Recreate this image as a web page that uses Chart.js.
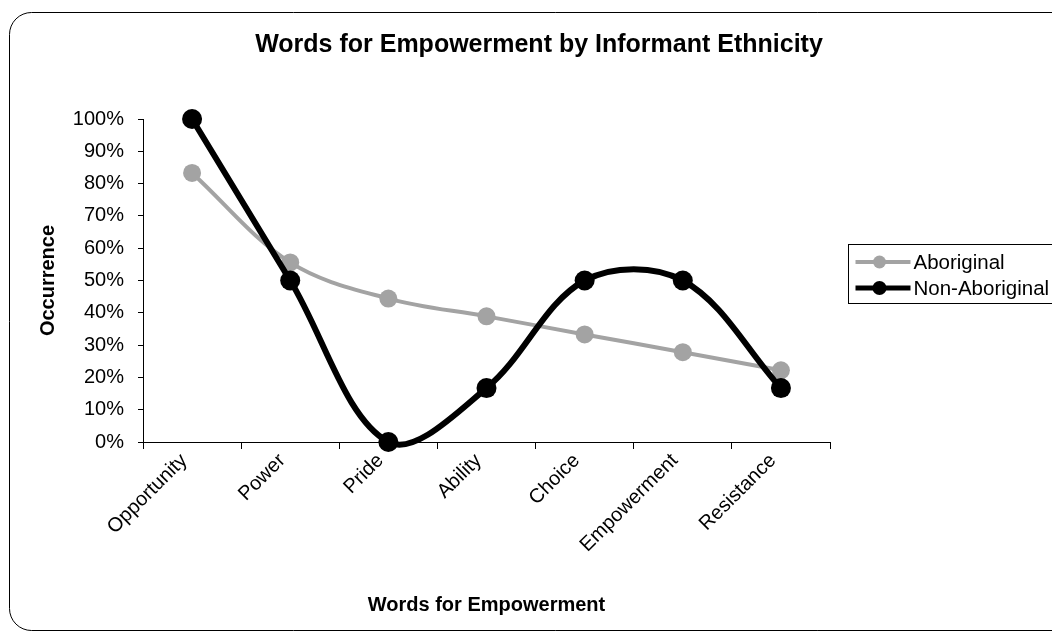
<!DOCTYPE html>
<html>
<head>
<meta charset="utf-8">
<title>Words for Empowerment by Informant Ethnicity</title>
<script src="https://cdn.jsdelivr.net/npm/chart.js@4/dist/chart.umd.min.js"></script>
<style>
  html, body { margin: 0; padding: 0; background: #fff; overflow: hidden; }
  #wrap { width: 1078px; height: 638px; }
</style>
</head>
<body>
<div id="wrap"><canvas id="chart" width="1078" height="638"></canvas></div>
<script>
// Words named by informants, and share of informants naming each word
const categories = ['Opportunity', 'Power', 'Pride', 'Ability', 'Choice', 'Empowerment', 'Resistance'];
const aboriginal = [0.833, 0.556, 0.444, 0.389, 0.333, 0.278, 0.222];
const nonAboriginal = [1.0, 0.5, 0.0, 0.167, 0.5, 0.5, 0.167];
const seriesNames = ['Aboriginal', 'Non-Aboriginal'];

const FONT = "'Liberation Sans', Arial, Helvetica, sans-serif";
const GREY = '#a3a3a3';
const BLACK = '#000000';

Chart.defaults.font.family = FONT;
Chart.defaults.color = '#000';

// Rounded outer frame of the chart
const framePlugin = {
  id: 'frame',
  beforeDraw(chart) {
    const ctx = chart.ctx;
    const x = 9.5, y = 12.5, w = 1200, h = 618, r = 22;
    ctx.save();
    ctx.fillStyle = '#fff';
    ctx.fillRect(0, 0, chart.width, chart.height);
    ctx.beginPath();
    ctx.moveTo(x + r, y);
    ctx.lineTo(x + w, y);
    ctx.lineTo(x + w, y + h);
    ctx.lineTo(x + r, y + h);
    ctx.arcTo(x, y + h, x, y + h - r, r);
    ctx.lineTo(x, y + r);
    ctx.arcTo(x, y, x + r, y, r);
    ctx.closePath();
    ctx.strokeStyle = '#000';
    ctx.lineWidth = 1;
    ctx.stroke();
    ctx.restore();
  }
};

// Boxed legend to the right of the plot: line sample with marker, then name
const boxLegendPlugin = {
  id: 'boxLegend',
  afterDraw(chart) {
    const ctx = chart.ctx;
    const area = chart.chartArea;
    const bx = area.right + 18.5;
    const by = 244.5;
    const bh = 59;
    ctx.save();
    ctx.strokeStyle = '#000';
    ctx.lineWidth = 1;
    ctx.strokeRect(bx, by, 400, bh);
    const rows = [262, 288];
    chart.data.datasets.forEach((ds, i) => {
      const yy = rows[i];
      ctx.beginPath();
      ctx.strokeStyle = ds.borderColor;
      ctx.lineWidth = i === 0 ? 4 : 5;
      ctx.moveTo(bx + 7, yy);
      ctx.lineTo(bx + 62, yy);
      ctx.stroke();
      ctx.beginPath();
      ctx.fillStyle = ds.pointBackgroundColor;
      ctx.arc(bx + 31, yy, i === 0 ? 6.5 : 7, 0, Math.PI * 2);
      ctx.fill();
      ctx.fillStyle = '#000';
      ctx.font = '20.5px ' + FONT;
      ctx.textBaseline = 'middle';
      ctx.textAlign = 'left';
      ctx.fillText(ds.label, bx + 65, yy + 1);
    });
    ctx.restore();
  }
};

new Chart(document.getElementById('chart'), {
  type: 'line',
  data: {
    labels: categories,
    datasets: [
      {
        label: seriesNames[0],
        data: aboriginal,
        borderColor: GREY,
        backgroundColor: GREY,
        pointBackgroundColor: GREY,
        pointBorderColor: GREY,
        borderWidth: 4,
        pointRadius: 9,
        pointBorderWidth: 0,
        tension: 0.35,
        clip: false,
        order: 1
      },
      {
        label: seriesNames[1],
        data: nonAboriginal,
        borderColor: BLACK,
        backgroundColor: BLACK,
        pointBackgroundColor: BLACK,
        pointBorderColor: BLACK,
        borderWidth: 6,
        pointRadius: 10,
        pointBorderWidth: 0,
        tension: 0.35,
        clip: false,
        order: 0
      }
    ]
  },
  options: {
    responsive: false,
    animation: false,
    events: [],
    layout: { padding: { left: 20, right: 20, top: 15, bottom: 15 } },
    elements: { line: { capBezierPoints: false } },
    plugins: {
      legend: { display: false },
      tooltip: { enabled: false },
      title: {
        display: true,
        text: 'Words for Empowerment by Informant Ethnicity',
        color: '#000',
        font: { size: 25, weight: 'bold', family: FONT, lineHeight: 1.2 },
        padding: { top: 15, bottom: 59 }
      }
    },
    scales: {
      x: {
        offset: true,
        grid: {
          offset: true,
          drawOnChartArea: false,
          drawTicks: true,
          tickLength: 7,
          tickColor: '#000',
          tickWidth: 1
        },
        border: { display: true, color: '#000', width: 1 },
        ticks: {
          autoSkip: false,
          minRotation: 45,
          maxRotation: 45,
          padding: 0,
          labelOffset: -8,
          color: '#000',
          font: { size: 20, family: FONT }
        },
        title: {
          display: true,
          text: 'Words for Empowerment',
          color: '#000',
          font: { size: 20, weight: 'bold', family: FONT, lineHeight: 1.2 },
          padding: { top: 0, bottom: 6 }
        },
        afterFit(scale) { scale.height = 181; }
      },
      y: {
        min: 0,
        max: 1,
        grid: {
          drawOnChartArea: false,
          drawTicks: true,
          tickLength: 5,
          tickColor: '#000',
          tickWidth: 1
        },
        border: { display: true, color: '#000', width: 1 },
        ticks: {
          stepSize: 0.1,
          padding: 14,
          color: '#000',
          font: { size: 20, family: FONT },
          callback: (v) => Math.round(v * 100) + '%'
        },
        title: {
          display: true,
          text: 'Occurrence',
          color: '#000',
          font: { size: 20, weight: 'bold', family: FONT, lineHeight: 1.2 },
          padding: { top: 16, bottom: 0 }
        },
        afterFit(scale) { scale.width = 123; }
      },
      // empty band on the right of the plot that holds the legend box
      legendBand: {
        type: 'linear',
        position: 'right',
        display: true,
        grid: { display: false, drawTicks: false },
        border: { display: false },
        ticks: { display: false },
        afterFit(scale) { scale.width = 228; }
      }
    }
  },
  plugins: [framePlugin, boxLegendPlugin]
});
</script>
</body>
</html>
